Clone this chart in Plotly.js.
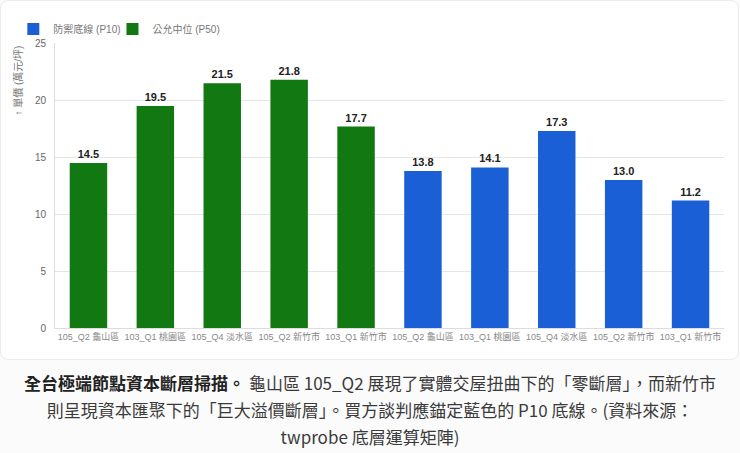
<!DOCTYPE html>
<html>
<head>
<meta charset="utf-8">
<script src="https://cdn.plot.ly/plotly-3.0.1.min.js"></script>
<style>
  body { margin: 0; background: #fbfbfb; width: 740px; height: 453px; overflow: hidden; }
  #card { position: absolute; left: 0; top: 0; width: 737px; height: 358px; background: #fff;
    border: 1px solid #ececec; border-radius: 8px; }
  #chart { position: absolute; left: 0; top: 0; width: 740px; height: 360px; }
  #caption { position: absolute; left: 0; top: 369px; width: 740px; text-align: center;
    font-family: 'Noto Sans CJK TC', 'Noto Sans', sans-serif; font-size: 17px; line-height: 27px; color: #3a3a3a; }
  #caption b { color: #222; }
</style>
</head>
<body>
<div id="card"></div>
<div id="chart"></div>
<div id="caption"><b>全台極端節點資本斷層掃描。</b> 龜山區 105_Q2 展現了實體交屋扭曲下的「零斷層」，而新竹市<br>則呈現資本匯聚下的「巨大溢價斷層」。買方談判應錨定藍色的 P10 底線。(資料來源：<br>twprobe 底層運算矩陣)</div>
<script>
// districts, same order in both groups
const districts = ['105_Q2 龜山區', '103_Q1 桃園區', '105_Q4 淡水區', '105_Q2 新竹市', '103_Q1 新竹市']
const p50Values = [14.5, 19.5, 21.5, 21.8, 17.7]
const p10Values = [13.8, 14.1, 17.3, 13.0, 11.2]
const seriesNames = ['防禦底線 (P10)', '公允中位 (P50)']
const colors = ['#1b5fd6', '#127812']
const yTitle = '↑ 單價 (萬元/坪)'

window.addEventListener('load', () => {
  drawChart()
})

function legendBox (x) {
  return {
    orientation: 'h',
    xref: 'container',
    yref: 'container',
    x: x,
    y: 0.96,
    xanchor: 'left',
    yanchor: 'top',
    bgcolor: 'rgba(0,0,0,0)',
    font: { size: 10, color: '#777' },
    itemwidth: 30
  }
}

function drawChart () {
  // P50 group sits first, P10 group after it
  const p50x = districts.map((d, i) => i)
  const p10x = districts.map((d, i) => i + districts.length)
  const ticktext = districts.concat(districts)
  const tickvals = ticktext.map((d, i) => i)

  const textFont = { family: 'Liberation Sans, Arial, sans-serif', size: 11, color: '#222', weight: 'bold' }

  var data = [{
    type: 'bar',
    name: seriesNames[0],
    legend: 'legend',
    x: p10x,
    y: p10Values,
    marker: { color: colors[0] },
    text: p10Values.map(v => v.toFixed(1)),
    textposition: 'outside',
    textfont: textFont,
    cliponaxis: false,
    hoverinfo: 'y+name'
  }, {
    type: 'bar',
    name: seriesNames[1],
    legend: 'legend2',
    x: p50x,
    y: p50Values,
    marker: { color: colors[1] },
    text: p50Values.map(v => v.toFixed(1)),
    textposition: 'outside',
    textfont: textFont,
    cliponaxis: false,
    hoverinfo: 'y+name'
  }]

  var layout = {
    width: 740,
    height: 360,
    margin: { l: 55, r: 16, t: 42, b: 32 },
    paper_bgcolor: 'rgba(0,0,0,0)',
    plot_bgcolor: 'rgba(0,0,0,0)',
    font: { family: 'Liberation Sans, Arial, Noto Sans CJK TC, sans-serif', size: 11, color: '#666' },
    barmode: 'overlay',
    bargap: 0.44,
    showlegend: true,
    legend: legendBox(0.018),
    legend2: legendBox(0.152),
    xaxis: {
      range: [-0.5, 9.5],
      tickmode: 'array',
      tickvals: tickvals,
      ticktext: ticktext,
      tickangle: 0,
      tickfont: { size: 9, color: '#888' },
      showgrid: false,
      showline: true,
      linecolor: '#ddd',
      zeroline: false,
      ticks: ''
    },
    yaxis: {
      range: [0, 25],
      dtick: 5,
      gridcolor: '#e6e6e6',
      showline: true,
      linecolor: '#ddd',
      zeroline: false,
      ticks: '',
      ticklabelstandoff: 6,
      tickfont: { size: 10, color: '#666' }
    },
    annotations: [{
      text: yTitle,
      textangle: -90,
      xref: 'paper',
      yref: 'paper',
      x: -0.055,
      y: 1,
      xanchor: 'center',
      yanchor: 'top',
      showarrow: false,
      font: { size: 10, color: '#777' }
    }]
  }

  Plotly.newPlot('chart', data, layout, { displayModeBar: false })
}
</script>
</body>
</html>
